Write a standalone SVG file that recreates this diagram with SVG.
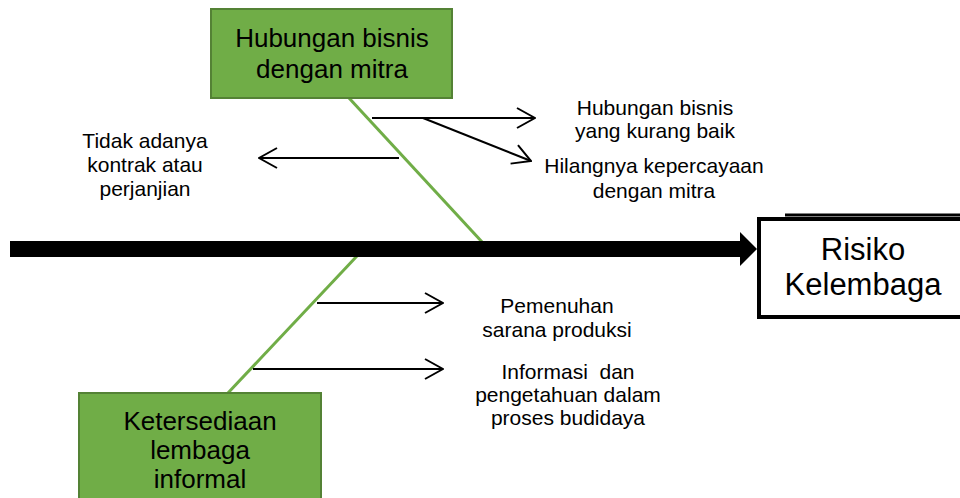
<svg xmlns="http://www.w3.org/2000/svg" width="960" height="498" viewBox="0 0 960 498">
<defs>
<style>
.lbl{font-family:"Liberation Sans",Arial,sans-serif;font-size:21px;fill:#000;text-anchor:middle}
.big{font-family:"Liberation Sans",Arial,sans-serif;font-size:26px;fill:#000;text-anchor:middle}
.green{fill:#70AD47;stroke:#548235;stroke-width:2}
.bone{stroke:#70AD47;stroke-width:3;fill:none}
.arr{stroke:#000;stroke-width:2;fill:none;marker-end:url(#open)}
</style>
<marker id="open" viewBox="0 0 20 22" refX="19" refY="11" markerWidth="20" markerHeight="22" markerUnits="userSpaceOnUse" orient="auto">
<path d="M1,1 L19,11 L1,21" fill="none" stroke="#000" stroke-width="2"/>
</marker>
</defs>
<rect width="960" height="498" fill="#fff"/>
<g id="connectors">
<line class="bone" x1="349" y1="98" x2="483" y2="243"/>
<line class="bone" x1="357" y1="256" x2="227" y2="394"/>
<rect x="10" y="241" width="732" height="16" fill="#000"/>
<polygon points="740,232 757,249 740,266" fill="#000"/>
<line class="arr" x1="372" y1="118" x2="535" y2="118"/>
<line class="arr" x1="423" y1="118" x2="531" y2="161"/>
<line class="arr" x1="399" y1="158" x2="259" y2="158"/>
<line class="arr" x1="317" y1="303" x2="443" y2="303"/>
<line class="arr" x1="253" y1="369" x2="443" y2="369"/>
</g>
<g id="node-hubungan">
<rect class="green" x="211" y="9" width="241" height="89"/>
<text class="big" x="332" y="47">Hubungan bisnis</text>
<text class="big" x="332" y="78">dengan mitra</text>
</g>
<g id="node-ketersediaan">
<rect class="green" x="79" y="393" width="242" height="110"/>
<text class="big" x="200" y="430">Ketersediaan</text>
<text class="big" x="200" y="459">lembaga</text>
<text class="big" x="200" y="488">informal</text>
</g>
<g id="node-risiko">
<line x1="785" y1="215" x2="960" y2="215" stroke="#000" stroke-width="3"/>
<rect x="759" y="219" width="220" height="98" fill="#fff" stroke="#000" stroke-width="4"/>
<text class="big" x="863" y="260" style="font-size:31px">Risiko</text>
<text class="big" x="863" y="295" style="font-size:31px">Kelembaga</text>
</g>
<g id="node-tidak">
<text class="lbl" x="145" y="148">Tidak adanya</text>
<text class="lbl" x="145" y="172">kontrak atau</text>
<text class="lbl" x="145" y="196">perjanjian</text>
</g>
<g id="node-hubungan-kurang">
<text class="lbl" x="655" y="115">Hubungan bisnis</text>
<text class="lbl" x="655" y="138">yang kurang baik</text>
</g>
<g id="node-hilangnya">
<text class="lbl" x="654" y="173">Hilangnya kepercayaan</text>
<text class="lbl" x="654" y="198">dengan mitra</text>
</g>
<g id="node-pemenuhan">
<text class="lbl" x="557" y="313">Pemenuhan</text>
<text class="lbl" x="557" y="337">sarana produksi</text>
</g>
<g id="node-informasi">
<text class="lbl" x="568" y="379" xml:space="preserve">Informasi  dan</text>
<text class="lbl" x="568" y="402">pengetahuan dalam</text>
<text class="lbl" x="568" y="425">proses budidaya</text>
</g>
</svg>
